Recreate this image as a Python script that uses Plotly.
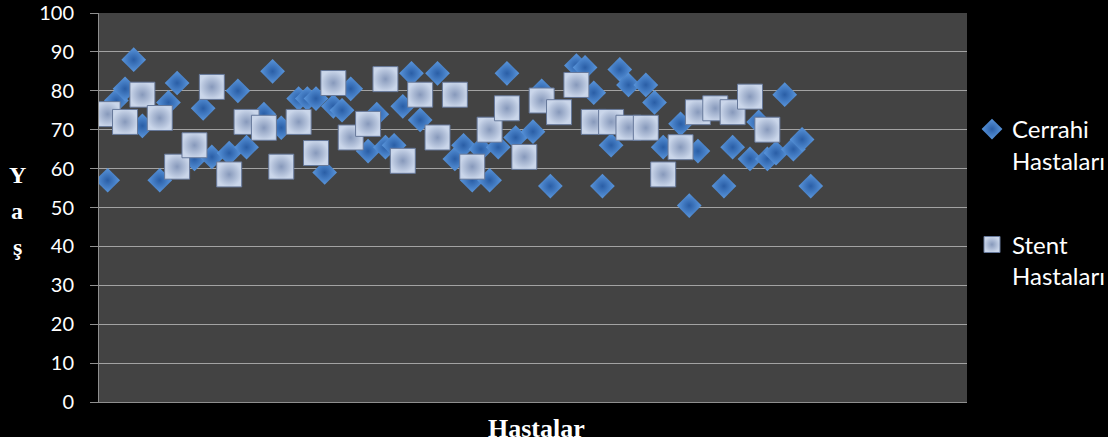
import plotly.graph_objects as go

# Ages of surgical patients (patient number, age)
cerrahi_no = [1, 2, 3, 4, 5, 7, 8, 9, 11, 12, 13, 15, 16, 17, 19, 20, 21, 23, 24, 25,
              26, 27, 28, 29, 31, 32, 33, 34, 35, 36, 37, 39, 41, 42, 43, 44, 45, 46, 47, 48,
              50, 51, 52, 55, 56, 57, 58, 59, 60, 61, 63, 64, 65, 67, 68, 69, 72, 73, 75, 76,
              77, 78, 79, 80, 81, 82]
cerrahi_yas = [57, 77.5, 80.5, 88, 71, 57, 77, 82, 62.5, 75.5, 63, 64, 80, 65.5, 74, 85, 70.5, 78, 78, 78,
               59, 76, 75, 80.5, 64.5, 74, 65.5, 66, 76, 84.5, 72.5, 84.5, 62.5, 66, 57, 65, 57, 65.5, 84.5, 68,
               69.5, 80, 55.5, 86.5, 86, 79.5, 55.5, 66, 85.5, 81.5, 81.5, 77, 65.5, 71.5, 50.5, 64.5, 55.5, 65.5, 62.5, 72,
               62.5, 64, 79, 65, 67.5, 55.5]

# Ages of stent patients
stent_no = list(range(1, 78, 2))
stent_yas = [74, 72, 79, 73, 60.5, 66, 81, 58.5, 72, 70.5, 60.5, 72, 64, 82, 68, 71.5, 83, 62, 79, 68,
             79, 60.5, 70, 75.5, 63, 77.5, 74.5, 81.5, 72, 72, 70.5, 70.5, 58.5, 65.5, 74.5, 75.5, 74.5, 78.5, 70]

y_ticks = list(range(0, 101, 10))

W, H = 1114, 443
L, R, T, B = 99, 147, 13, 41
pw, ph = W - L - R, H - T - B


def px_x(p):
    return (p - L) / pw


def px_y(p):
    return (H - B - p) / ph


fig = go.Figure()

fig.add_trace(go.Scatter(
    x=cerrahi_no, y=cerrahi_yas, mode="markers", name="Cerrahi<br>Hastaları",
    legendgroup="c",
    marker=dict(symbol="diamond", size=19, color="#5a96dc",
                gradient=dict(type="radial", color="#2a5ea6"),
                line=dict(width=0)),
))
fig.add_trace(go.Scatter(
    x=stent_no, y=stent_yas, mode="markers", name="Stent<br>Hastaları",
    legendgroup="s",
    marker=dict(symbol="square", size=25, color="#cad6ea",
                gradient=dict(type="radial", color="#8799bb"),
                line=dict(width=1, color="#66789a")),
))

shapes = [
    # white page edge to the right and below the chart
    dict(type="rect", xref="paper", yref="paper", layer="above",
         x0=px_x(1108), x1=px_x(1130), y0=px_y(460), y1=px_y(-20),
         fillcolor="white", line=dict(width=0)),
    dict(type="rect", xref="paper", yref="paper", layer="above",
         x0=px_x(-20), x1=px_x(1130), y0=px_y(460), y1=px_y(437),
         fillcolor="white", line=dict(width=0)),
]

annotations = [
    dict(text="Hastalar", x=px_x(536), y=px_y(428), xref="paper", yref="paper",
         showarrow=False, xanchor="center", yanchor="middle",
         font=dict(family="Liberation Serif", size=26, color="white", weight="bold")),
]
for letter, yc in zip(["Y", "a", "ş"], [175, 211, 247]):
    annotations.append(dict(text=letter, x=px_x(17), y=px_y(yc), xref="paper", yref="paper",
                            showarrow=False, xanchor="center", yanchor="middle",
                            font=dict(family="Liberation Serif", size=24, color="white",
                                      weight="bold")))

fig.update_layout(
    width=W, height=H,
    margin=dict(l=L, r=R, t=T, b=B, pad=0, autoexpand=False),
    paper_bgcolor="black",
    plot_bgcolor="#434343",
    shapes=shapes,
    annotations=annotations,
    showlegend=True,
    legend=dict(x=px_x(972), y=px_y(107), xanchor="left", yanchor="top",
                bgcolor="rgba(0,0,0,0)", valign="top", tracegroupgap=50,
                font=dict(family="Lato", size=24, color="white")),
    xaxis=dict(range=[0, 100], showgrid=False, zeroline=False, showticklabels=False,
               showline=True, linecolor="#8f8f8f", linewidth=1, ticks="",
               automargin=False),
    yaxis=dict(range=[0, 100], tickvals=y_ticks, showgrid=True, gridcolor="#a3a3a3",
               gridwidth=1, zeroline=False, showline=True, linecolor="#8f8f8f",
               ticks="outside", ticklen=8, tickcolor="#8f8f8f", ticklabelstandoff=12,
               ticklabeloverflow="allow", automargin=False,
               tickfont=dict(family="Lato", size=20, color="white")),
)

fig.write_html("out.html")
